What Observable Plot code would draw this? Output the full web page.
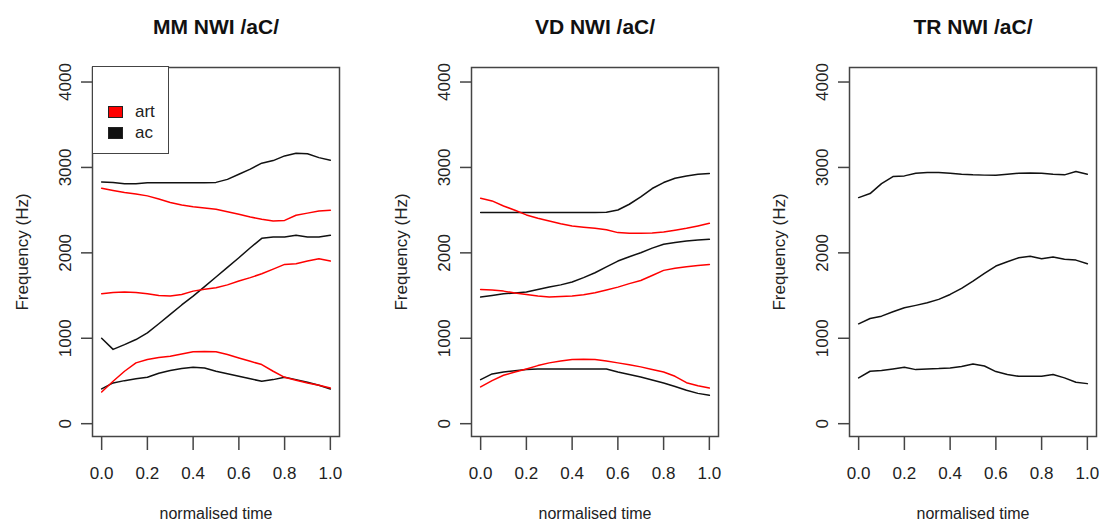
<!DOCTYPE html>
<html><head><meta charset="utf-8">
<script src="https://cdn.jsdelivr.net/npm/d3@7"></script>
<script src="https://cdn.jsdelivr.net/npm/@observablehq/plot@0.6"></script>
<style>
body{margin:0;background:#fff;}
#wrap{position:relative;width:1099px;height:524px;overflow:hidden;font-family:"Liberation Sans",Arial,sans-serif;color:#222;}
.panel{position:absolute;top:0;}
.legend{position:absolute;left:92px;top:66px;width:77px;height:88px;box-sizing:border-box;border:1.5px solid #444;background:#fff;font-size:17px;}
.legend .key{position:absolute;left:15px;width:15px;height:12px;box-sizing:border-box;border:1px solid #222;}
.legend .lab{position:absolute;left:42px;line-height:20px;}
</style></head><body><div id="wrap"></div>
<script>
// normalised time grid (shared by all series)
const time = [0,0.05,0.1,0.15,0.2,0.25,0.3,0.35,0.4,0.45,0.5,0.55,0.6,0.65,0.7,0.75,0.8,0.85,0.9,0.95,1.0];

// tick labels
const xTicks = [0,0.2,0.4,0.6,0.8,1.0];
const yTicks = [0,1000,2000,3000,4000];

// panel titles
const titles = ["MM NWI /aC/","VD NWI /aC/","TR NWI /aC/"];

// legend categories
const legendLabels = ["art","ac"];
const legendColors = ["#ff0000","#111111"];

// MM (Hz)
const mmF3ac  = [2830,2825,2810,2810,2820,2820,2820,2820,2820,2820,2825,2860,2920,2980,3050,3080,3135,3165,3160,3115,3085];
const mmF3art = [2757,2730,2706,2690,2667,2630,2590,2560,2540,2525,2510,2480,2452,2420,2393,2373,2380,2440,2465,2490,2500];
const mmF2ac  = [1000,870,925,985,1063,1170,1280,1390,1494,1605,1717,1830,1943,2060,2170,2186,2186,2205,2186,2186,2205];
const mmF2art = [1521,1535,1541,1535,1521,1500,1494,1513,1552,1575,1591,1625,1670,1710,1756,1810,1865,1873,1904,1932,1904];
const mmF1ac  = [407,477,504,525,543,590,622,645,661,653,614,585,555,525,497,516,543,516,485,450,407];
const mmF1art = [371,497,614,712,751,775,790,815,841,845,841,810,770,730,692,614,543,508,477,450,418];

// VD (Hz)
const vdF3ac  = [2471,2471,2471,2471,2471,2471,2471,2471,2471,2471,2471,2475,2502,2569,2655,2753,2823,2874,2901,2921,2929];
const vdF3art = [2639,2608,2549,2499,2444,2405,2373,2340,2315,2300,2287,2270,2237,2229,2229,2232,2244,2265,2287,2315,2346];
const vdF2ac  = [1482,1500,1521,1530,1541,1570,1599,1625,1658,1710,1767,1835,1904,1955,2002,2055,2100,2120,2139,2150,2158];
const vdF2art = [1572,1565,1552,1530,1513,1495,1482,1488,1494,1510,1533,1565,1599,1640,1677,1735,1795,1820,1838,1852,1865];
const vdF1ac  = [516,583,606,620,633,640,641,641,641,641,641,641,606,575,547,512,477,435,391,355,332];
const vdF1art = [430,504,567,605,641,680,712,735,751,755,751,735,712,690,665,635,606,555,480,445,418];

// TR (Hz)
const trF3ac = [2647,2694,2811,2893,2901,2933,2940,2940,2933,2920,2913,2910,2909,2920,2933,2935,2933,2921,2913,2952,2921];
const trF2ac = [1169,1232,1259,1310,1357,1385,1415,1455,1513,1585,1670,1760,1846,1895,1943,1960,1932,1951,1924,1915,1873];
const trF1ac = [536,614,622,640,661,633,640,645,653,670,700,675,610,575,555,555,555,575,536,485,469];

const RED = legendColors[0], BLK = legendColors[1];
const panels = [
  {title: titles[0], left: 0, width: 379, mr: 40, legend: true,
   series: [["F3ac",mmF3ac,BLK],["F2ac",mmF2ac,BLK],["F1ac",mmF1ac,BLK],["F3art",mmF3art,RED],["F2art",mmF2art,RED],["F1art",mmF1art,RED]]},
  {title: titles[1], left: 379, width: 379, mr: 40, legend: false,
   series: [["F3ac",vdF3ac,BLK],["F2ac",vdF2ac,BLK],["F1ac",vdF1ac,BLK],["F3art",vdF3art,RED],["F2art",vdF2art,RED],["F1art",vdF1art,RED]]},
  {title: titles[2], left: 757, width: 342, mr: 3, legend: false,
   series: [["F3ac",trF3ac,BLK],["F2ac",trF2ac,BLK],["F1ac",trF1ac,BLK]]}
];

const wrap = document.getElementById("wrap");
const FONT = '"Liberation Sans", Arial, sans-serif';

for (const p of panels) {
  const data = p.series.flatMap(([id, vals, col]) => vals.map((v, i) => ({id, t: time[i], f: v, col})));
  const chart = Plot.plot({
    width: p.width, height: 524,
    marginTop: 67, marginBottom: 88, marginLeft: 92, marginRight: p.mr,
    x: {domain: [-0.04, 1.04]},
    y: {domain: [-150, 4170]},
    color: {type: "identity"},
    style: {fontFamily: FONT, fontSize: "17px", color: "#222", background: "transparent", overflow: "visible"},
    marks: [
      Plot.line(data, {x: "t", y: "f", z: "id", stroke: "col", strokeWidth: 1.5}),
      Plot.frame({stroke: "#444", strokeWidth: 1.5}),
      Plot.axisX({ticks: xTicks, tickSize: 14, tickPadding: 16, tickFormat: d3.format(".1f"), label: null, fontSize: 17, stroke: "#444", strokeWidth: 1.5}),
      Plot.axisY({ticks: yTicks, tickSize: 11, tickFormat: () => "", label: null, stroke: "#444", strokeWidth: 1.5}),
      Plot.text(yTicks, {y: d => d, frameAnchor: "left", dx: -27, rotate: -90, text: d => String(d), textAnchor: "middle", lineAnchor: "middle", fontSize: 17, fill: "#222"}),
      Plot.text([p.title], {frameAnchor: "top", dy: -40, textAnchor: "middle", lineAnchor: "middle", fontWeight: "bold", fontSize: 21, fill: "#111"}),
      Plot.text(["Frequency (Hz)"], {frameAnchor: "left", dx: -70, rotate: -90, textAnchor: "middle", lineAnchor: "middle", fontSize: 17, fill: "#222"}),
      Plot.text(["normalised time"], {frameAnchor: "bottom", dy: 77, textAnchor: "middle", lineAnchor: "middle", fontSize: 16, fill: "#222"})
    ]
  });
  const div = document.createElement("div");
  div.className = "panel";
  div.style.left = p.left + "px";
  div.appendChild(chart);
  wrap.appendChild(div);
  if (p.legend) {
    const lg = document.createElement("div");
    lg.className = "legend";
    lg.style.left = (p.left + 92) + "px";
    legendLabels.forEach((lab, i) => {
      const k = document.createElement("div");
      k.className = "key";
      k.style.top = (39 + i * 21) + "px";
      k.style.background = legendColors[i];
      lg.appendChild(k);
      const t = document.createElement("div");
      t.className = "lab";
      t.style.top = (35 + i * 21) + "px";
      t.textContent = lab;
      lg.appendChild(t);
    });
    wrap.appendChild(lg);
  }
}
</script>
</body></html>
